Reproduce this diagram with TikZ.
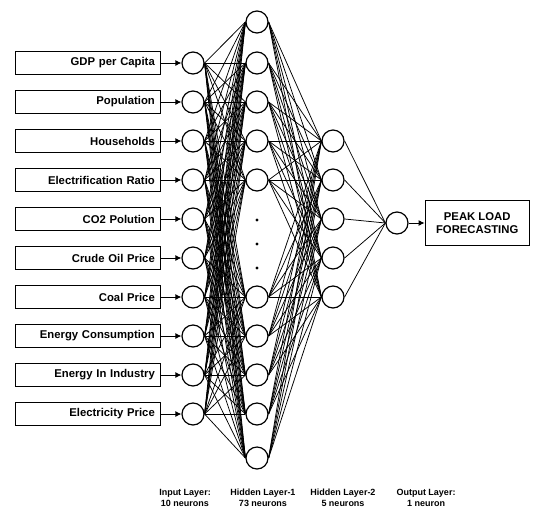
\documentclass[tikz,border=0pt]{standalone}
\usepackage{fontspec}
\setmainfont{Liberation Sans}
\usetikzlibrary{arrows.meta,positioning}
\tikzset{
  neuron/.style={draw, circle, line width=1.2pt, minimum size=22pt, inner sep=0pt},
  inbox/.style={draw, line width=1.2pt, text width=133pt, inner xsep=6pt, minimum height=23pt,
    align=right, font=\bfseries\fontsize{11.3}{13}\selectfont},
  resbox/.style={draw, line width=1.2pt, minimum width=104pt, minimum height=45pt,
    align=center, font=\bfseries\fontsize{11.3}{13.5}\selectfont},
  wire/.style={line width=0.75pt},
  feed/.style={line width=1pt, -{Latex[length=6pt,width=6pt]}},
  layercap/.style={align=center, font=\bfseries\fontsize{9}{11.5}\selectfont}
}
\begin{document}
\begin{tikzpicture}[x=1pt,y=-1pt]
  \useasboundingbox (0,0) rectangle (540,512);
  \foreach \t [count=\i] in {GDP per Capita, Population, Households, Electrification Ratio,
      CO2 Polution, Crude Oil Price, Coal Price, Energy Consumption, Energy In Industry,
      Electricity Price}{
    \node[neuron] (in\i) at (193,24+39*\i) {};
    \node[inbox, left=20pt of in\i] (var\i) {\t};
    \draw[feed] (var\i) -- (in\i);
  }
  \foreach \y [count=\j] in {22,63,102,141,180,297,336,375,414,458}
    \node[neuron] (hA\j) at (257,\y) {};
  \foreach \y in {220,244,268}
    \fill (257,\y) circle (1.7pt);
  \foreach \y [count=\k] in {141,180,219,258,297}
    \node[neuron] (hB\k) at (333,\y) {};
  \node[neuron] (out) at (397,223) {};
  \node[resbox, right=16pt of out] (peak) {PEAK LOAD\\FORECASTING};
  \draw[feed] (out) -- (peak);

  \foreach \i in {1,...,10}
    \foreach \j in {1,...,10}
      \draw[wire] (in\i.east) -- (hA\j.west);
  \foreach \j in {1,...,10}
    \foreach \k in {1,...,5}
      \draw[wire] (hA\j.east) -- (hB\k.west);
  \foreach \k in {1,...,5}
    \draw[wire] (hB\k.east) -- (out.west);

  \foreach \x/\t [count=\n] in {185/{Input Layer:\\10 neurons}, 263/{Hidden Layer-1\\73 neurons},
      343/{Hidden Layer-2\\5 neurons}, 426/{Output Layer:\\1 neuron}}
    \node[layercap] (cap\n) at (\x,498) {\t};
\end{tikzpicture}
\end{document}
